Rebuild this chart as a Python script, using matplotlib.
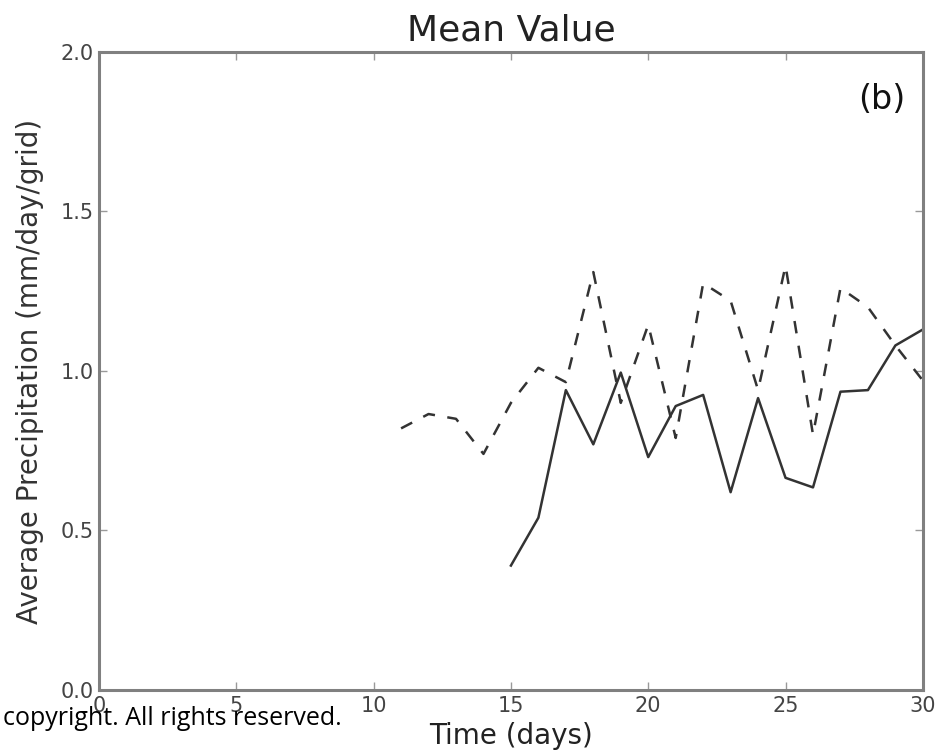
import numpy as np
import matplotlib.pyplot as plt

# Data
days_dashed = [11, 12, 13, 14, 15, 16, 17, 18, 19, 20, 21, 22, 23, 24, 25, 26, 27, 28, 29, 30]
precip_dashed = [0.82, 0.865, 0.85, 0.74, 0.90, 1.01, 0.965, 1.31, 0.90, 1.145, 0.79,
                 1.275, 1.22, 0.94, 1.33, 0.80, 1.26, 1.20, 1.08, 0.97]

days_solid = [15, 16, 17, 18, 19, 20, 21, 22, 23, 24, 25, 26, 27, 28, 29, 30]
precip_solid = [0.39, 0.54, 0.94, 0.77, 0.995, 0.73, 0.89, 0.925, 0.62, 0.915,
                0.665, 0.635, 0.935, 0.94, 1.08, 1.13]

xticks = [0, 5, 10, 15, 20, 25, 30]
yticks = [0.0, 0.5, 1.0, 1.5, 2.0]

fig = plt.figure(figsize=(9.35, 7.53), dpi=100)
ax = fig.add_axes([0.1059, 0.0837, 0.8811, 0.8473])

ax.plot(days_dashed, precip_dashed, color="#333333", linestyle="--", linewidth=1.8,
        dashes=(5, 5))
ax.plot(days_solid, precip_solid, color="#333333", linestyle="-", linewidth=1.8)

ax.set_xlim(0, 30)
ax.set_ylim(0, 2.0)
ax.set_xticks(xticks)
ax.set_yticks(yticks)
ax.set_yticklabels([f"{v:.1f}" for v in yticks])

for s in ax.spines.values():
    s.set_color("#808080")
    s.set_linewidth(2.2)

ax.tick_params(direction="in", length=6, width=1, color="#999999",
               top=True, right=True, labelsize=15, labelcolor="#444444", pad=4)

ax.set_title("Mean Value", fontsize=26, color="#222222", pad=8)
ax.set_xlabel("Time (days)", fontsize=20, color="#222222", labelpad=5)
ax.set_ylabel("Average Precipitation (mm/day/grid)", fontsize=20, color="#333333", labelpad=12)

ax.text(28.5, 1.85, "(b)", fontsize=24, ha="center", va="center", color="#111111")

fig.text(0.003, 0.046, "copyright. All rights reserved.", fontsize=18, color="black",
         ha="left", va="center", family="Open Sans")

fig.savefig("out.png", dpi=100)
